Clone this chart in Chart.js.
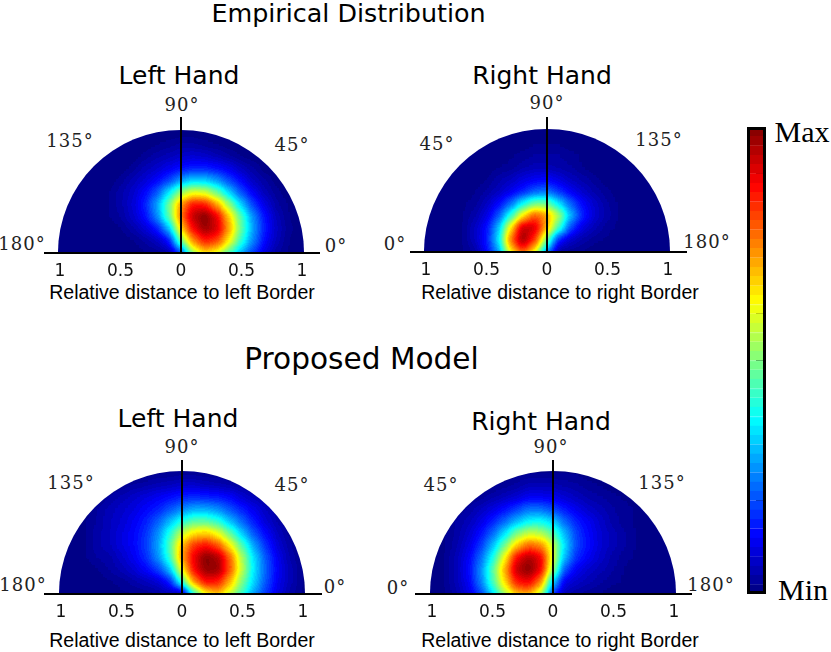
<!DOCTYPE html>
<html><head><meta charset="utf-8">
<script src="https://cdn.jsdelivr.net/npm/chart.js@4"></script>
<style>
html,body{margin:0;padding:0;background:#fff;width:831px;height:652px;overflow:hidden}
canvas{position:absolute}
.t{position:absolute;transform:translate(-50%,-50%);white-space:nowrap;color:#000;line-height:1}
.h{font-family:"DejaVu Sans"}
.l{font-family:"Liberation Sans";font-size:16px}
.d{font-family:"DejaVu Serif";font-size:18px;letter-spacing:1px;color:#222}
.m{font-family:"Liberation Serif";font-size:30px}
</style></head><body>
<script>
// ---- data: heat level (0-100), rows y = 1.0 ... 0, columns x = -1 ... 1
const xBins=[-1,-.9,-.8,-.7,-.6,-.5,-.4,-.3,-.2,-.1,0,.1,.2,.3,.4,.5,.6,.7,.8,.9,1];
const yBins=[1,.9,.8,.7,.6,.5,.4,.3,.2,.1,0];
const xTicks=[-1,-.5,0,.5,1];
const colorLevels=[0,2,4,6,8,10,12,14,16,18,20,22,24,26,28,30,32,34,36,38,40,42,44,46,48,50,52,54,56,58,60,62,64,66,68,70,72,74,76,78,80,82,84,86,88,90,92,94,96,98];
const empiricalLeft=[
[0,0,0,0,0,0,0,0,0,0,0,0,0,0,0,0,0,0,0,0,0],
[0,0,0,0,0,0,0,0,1,2,3,3,2,1,0,0,0,0,0,0,0],
[0,0,0,0,0,0,0,2,4,5,7,8,7,5,3,1,0,0,0,0,0],
[0,0,0,0,0,0,2,5,7,10,13,15,15,13,10,6,3,0,0,0,0],
[0,0,0,0,0,2,5,8,12,18,27,33,32,27,19,12,6,3,0,0,0],
[0,0,0,0,1,4,7,12,20,35,52,60,58,48,33,20,11,5,2,0,0],
[0,0,0,0,1,4,8,15,28,48,73,87,86,72,52,33,18,9,3,1,0],
[0,0,0,0,1,3,7,13,25,46,76,94,100,90,68,45,26,13,5,1,0],
[0,0,0,0,0,1,4,8,14,30,66,88,98,92,72,48,28,14,6,2,0],
[0,0,0,0,0,0,1,3,6,13,48,74,86,82,64,42,25,12,5,1,0],
[0,0,0,0,0,0,0,1,2,4,18,54,68,62,46,30,18,9,3,1,0]];
const empiricalRight=[
[0,0,0,0,0,0,0,0,0,0,0,0,0,0,0,0,0,0,0,0,0],
[0,0,0,0,0,0,0,0,0,1,1,1,0,0,0,0,0,0,0,0,0],
[0,0,0,0,0,0,0,1,2,3,3,3,2,1,0,0,0,0,0,0,0],
[0,0,0,0,0,0,1,2,4,5,5,4,3,1,0,0,0,0,0,0,0],
[0,0,0,0,0,1,4,6,9,11,12,9,6,4,2,0,0,0,0,0,0],
[0,0,0,0,1,3,6,10,15,21,23,17,11,7,4,2,0,0,0,0,0],
[0,0,0,1,2,6,12,22,37,48,48,35,21,12,7,3,1,0,0,0,0],
[0,0,0,1,4,9,20,40,64,80,72,54,30,15,8,4,1,0,0,0,0],
[0,0,0,1,6,13,30,64,94,92,70,44,19,9,5,2,1,0,0,0,0],
[0,0,0,1,6,14,34,76,98,84,50,15,7,4,2,1,0,0,0,0,0],
[0,0,0,1,3,12,27,64,82,64,27,3,2,1,0,0,0,0,0,0,0]];
const modelLeft=[
[0,0,0,0,0,0,0,0,1,1,2,2,1,1,0,0,0,0,0,0,0],
[0,0,0,0,0,1,3,4,5,6,7,7,6,5,4,3,1,0,0,0,0],
[0,0,0,0,3,5,7,9,11,13,15,16,15,14,12,8,5,3,0,0,0],
[0,0,0,3,5,7,9,12,15,20,25,29,29,26,20,15,10,6,3,0,0],
[0,0,1,3,6,8,11,15,21,30,40,46,46,41,31,22,14,8,4,1,0],
[0,0,1,4,6,9,12,17,26,40,57,65,68,61,47,32,20,12,6,2,0],
[0,0,1,4,6,9,12,18,28,45,69,83,87,80,64,45,28,16,8,3,0],
[0,0,1,3,4,7,11,16,26,42,72,90,100,96,78,54,34,20,10,4,1],
[0,0,0,1,3,5,8,12,18,31,62,88,99,98,80,56,35,21,11,5,1],
[0,0,0,0,1,2,4,6,8,15,42,74,88,86,70,50,33,20,10,5,1],
[0,0,0,0,0,1,1,2,3,5,4,42,64,70,58,43,28,17,9,4,1]];
const modelRight=[
[0,0,0,0,0,0,0,1,1,1,1,1,1,0,0,0,0,0,0,0,0],
[0,0,0,0,0,1,2,3,5,5,5,4,3,2,1,0,0,0,0,0,0],
[0,0,0,1,2,4,6,8,11,11,10,8,6,4,3,2,1,0,0,0,0],
[0,0,1,3,6,9,13,18,23,23,19,14,10,7,5,3,2,1,0,0,0],
[0,0,3,5,9,15,22,30,37,38,33,22,15,11,7,4,2,1,0,0,0],
[0,1,3,7,13,22,34,49,57,55,46,30,18,12,8,5,3,1,0,0,0],
[0,1,4,9,17,30,48,68,78,75,58,34,19,13,8,5,3,1,0,0,0],
[0,1,5,11,22,38,62,88,96,90,60,30,16,11,7,4,2,1,0,0,0],
[0,1,5,12,25,45,70,94,100,90,54,20,11,7,5,3,1,0,0,0,0],
[0,1,5,11,24,43,66,86,90,76,34,10,7,5,3,2,1,0,0,0,0],
[0,1,4,9,18,34,54,70,72,58,18,5,3,2,1,0,0,0,0,0,0]];

// ---- layout
const UNIT=121, DISC=1.017;
const panels=[
 {id:'EL',table:empiricalLeft, cx:181,base:253,top:117,left:44,right:320},
 {id:'ER',table:empiricalRight,cx:547,base:252,top:117,left:410,right:687},
 {id:'ML',table:modelLeft,     cx:182,base:594,top:460,left:44,right:322},
 {id:'MR',table:modelRight,    cx:553,base:594,top:460,left:415,right:692}
];
const texts=[
 ['h','Empirical Distribution',348.5,14,25.4],['h','Proposed Model',361.5,360,29.6],
 ['h','Left Hand',179,75,25],['h','Right Hand',542,75,25],['h','Left Hand',178,418,25],['h','Right Hand',541,421,25],
 ['l','Relative distance to left Border',182,293,19.5],['l','Relative distance to right Border',560,293,19.5],
 ['l','Relative distance to left Border',182,641,19.5],['l','Relative distance to right Border',560,641,19.5],
 ['d','135°',70,141],['d','45°',292,145],['d','90°',182,105],['d','180°',22,244],['d','0°',336,246],
 ['d','45°',437,144],['d','135°',659,140],['d','90°',547,103],['d','0°',395,244],['d','180°',707,242],
 ['d','135°',71,483],['d','45°',292,485],['d','90°',182,447],['d','180°',23,585],['d','0°',335,587],
 ['d','45°',441,485],['d','135°',662,483],['d','90°',551,447],['d','0°',398,588],['d','180°',711,585],
 ['m','Max',802,132],['m','Min',803,590]
];
texts.forEach(([c,s,x,y,fs])=>{const e=document.createElement('div');e.className='t '+c;e.textContent=s;
 e.style.left=x+'px';e.style.top=y+'px';if(fs)e.style.fontSize=fs+'px';document.body.appendChild(e);});

function jetRGB(v){const t=v/100,c=f=>Math.round(255*Math.max(0,Math.min(1,1.5-Math.abs(4*t-f))));return [c(3),c(2),c(1)];}
function jet(v){return 'rgb('+jetRGB(v).join(',')+')';}
function gray(v){const g=Math.round(v*2.55);return `rgb(${g},${g},${g})`;}
const LUT=[];for(let i=0;i<256;i++){const lv=Math.min(63,Math.floor(i/256*64));LUT.push(jetRGB((lv+.5)/64*100));}
function mkCanvas(l,t,w,h){const c=document.createElement('canvas');c.width=w;c.height=h;
 c.style.left=l+'px';c.style.top=t+'px';c.style.width=w+'px';c.style.height=h+'px';document.body.appendChild(c);return c;}

// cells are drawn as levels, softened together, clipped to the half disc, then the colour map is applied
const halfDisc={id:'halfDisc',
 afterDatasetsDraw(ch){const c=ch.ctx,{x,y}=ch.scales,w=ch.width,h=ch.height,
     px=x.getPixelForValue(0),py=y.getPixelForValue(0),r=x.getPixelForValue(DISC)-px;
   const off=document.createElement('canvas');off.width=w;off.height=h;const o=off.getContext('2d');
   o.fillStyle='#000';o.fillRect(0,0,w,h);o.drawImage(ch.canvas,0,0);
   c.clearRect(0,0,w,h);c.save();c.beginPath();c.arc(px,py,r,Math.PI,0);c.closePath();c.clip();
   c.filter='blur(4px)';c.drawImage(off,0,0);c.restore();
   const im=c.getImageData(0,0,w,Math.round(py)+1),d=im.data;
   for(let i=0;i<d.length;i+=4){if(d[i+3]===0)continue;const m=LUT[d[i]];d[i]=m[0];d[i+1]=m[1];d[i+2]=m[2];}
   c.putImageData(im,0,0);}
};

panels.forEach(p=>{
 const W=p.right-p.left,H=p.base-p.top+30,pts=[],cols=[];
 p.table.forEach((row,j)=>row.forEach((v,i)=>{pts.push({x:xBins[i],y:yBins[j]});cols.push(gray(v));}));
 new Chart(mkCanvas(p.left,p.top,W,H),{type:'scatter',plugins:[halfDisc],
  data:{datasets:[{data:pts,backgroundColor:cols,borderWidth:0,clip:false,pointStyle:'rect',pointRadius:9,pointHoverRadius:9}]},
  options:{responsive:false,animation:false,events:[],layout:{padding:0,autoPadding:false},
   plugins:{legend:{display:false},tooltip:{enabled:false}},
   scales:{
    x:{type:'linear',min:(p.left-p.cx)/UNIT,max:(p.right-p.cx)/UNIT,position:'bottom',
       grid:{display:false,drawTicks:false},border:{color:'#000',width:2,z:1},
       afterBuildTicks:s=>{s.ticks=xTicks.map(v=>({value:v}));},
       afterFit:s=>{s.height=30;},
       ticks:{z:1,autoSkip:false,maxRotation:0,padding:8,color:'#111',font:{family:'DejaVu Sans',size:17},callback:v=>String(Math.abs(v))}},
    y:{type:'linear',min:0,max:(p.base-p.top)/UNIT,position:{x:0},
       grid:{display:false,drawTicks:false},border:{color:'#000',width:2,z:1},ticks:{display:false}}
   }}});
});

// colour bar
const frame={id:'frame',afterDraw(ch){const c=ch.ctx,a=ch.chartArea;c.save();c.strokeStyle='#000';c.lineWidth=3;
 c.strokeRect(a.left+1.5,a.top+1.5,a.width-3,a.height-3);c.restore();}};
new Chart(mkCanvas(747,127,19,467),{type:'bar',plugins:[frame],
 data:{labels:['level'],datasets:colorLevels.map(v=>({data:[2],stack:'s',backgroundColor:jet(v+1),borderColor:jet(v+1),borderWidth:1,barPercentage:1,categoryPercentage:1}))},
 options:{responsive:false,animation:false,events:[],layout:{padding:0,autoPadding:false},
  plugins:{legend:{display:false},tooltip:{enabled:false}},
  scales:{x:{display:false,stacked:true},
   y:{stacked:true,min:0,max:100,position:'right',afterFit:s=>{s.width=0;},border:{display:false},
      grid:{drawOnChartArea:false,drawTicks:true,tickLength:-10,color:'#000',lineWidth:1},
      ticks:{display:false,stepSize:10}}}}});
</script>
</body></html>
